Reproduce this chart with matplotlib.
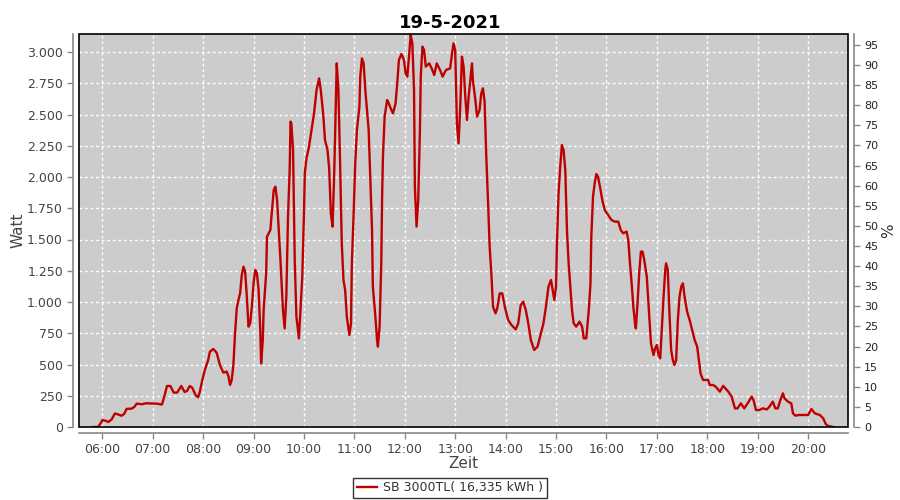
import matplotlib
matplotlib.use("Agg")
import matplotlib.pyplot as plt
import matplotlib.dates as mdates
from matplotlib.ticker import FuncFormatter, MultipleLocator
from matplotlib.patches import Rectangle
import pandas as pd

# readings of 19-5-2021 (time, power in W)
times = [
    "05:49", "05:55", "05:58", "06:00", "06:04", "06:07", "06:11", "06:15", "06:19", "06:23",
    "06:26", "06:29", "06:35", "06:38", "06:41", "06:47", "06:52", "06:58", "07:05", "07:11",
    "07:14", "07:17", "07:21", "07:25", "07:29", "07:34", "07:38", "07:41", "07:44", "07:47",
    "07:51", "07:54", "07:56", "07:59", "08:02", "08:06", "08:08", "08:12", "08:16", "08:20",
    "08:24", "08:28", "08:30", "08:32", "08:34", "08:36", "08:38", "08:40", "08:42", "08:44",
    "08:46", "08:48", "08:50", "08:52", "08:54", "08:56", "08:58", "09:00", "09:02", "09:04",
    "09:06", "09:08", "09:09", "09:11", "09:12", "09:15", "09:16", "09:20", "09:22", "09:24",
    "09:26", "09:28", "09:30", "09:32", "09:35", "09:37", "09:39", "09:41", "09:43", "09:44",
    "09:45", "09:47", "09:49", "09:51", "09:54", "09:56", "09:58", "10:00", "10:01", "10:03",
    "10:06", "10:09", "10:12", "10:15", "10:18", "10:20", "10:23", "10:25", "10:28", "10:30",
    "10:32", "10:34", "10:36", "10:37", "10:39", "10:41", "10:43", "10:45", "10:47", "10:49",
    "10:51", "10:54", "10:56", "10:57", "10:59", "11:01", "11:03", "11:06", "11:07", "11:09",
    "11:11", "11:13", "11:17", "11:19", "11:21", "11:22", "11:25", "11:27", "11:28", "11:30",
    "11:32", "11:33", "11:34", "11:36", "11:39", "11:41", "11:44", "11:46", "11:49", "11:51",
    "11:53", "11:56", "11:59", "12:01", "12:03", "12:05", "12:07", "12:09", "12:11", "12:12",
    "12:14", "12:16", "12:18", "12:19", "12:21", "12:23", "12:25", "12:29", "12:32", "12:35",
    "12:38", "12:42", "12:45", "12:49", "12:54", "12:56", "12:58", "13:00", "13:01", "13:02",
    "13:04", "13:06", "13:08", "13:10", "13:12", "13:14", "13:16", "13:18", "13:20", "13:21",
    "13:24", "13:26", "13:29", "13:31", "13:33", "13:35", "13:37", "13:39", "13:41", "13:43",
    "13:45", "13:48", "13:50", "13:53", "13:56", "13:59", "14:03", "14:07", "14:12", "14:15",
    "14:18", "14:21", "14:24", "14:27", "14:30", "14:34", "14:38", "14:42", "14:45", "14:48",
    "14:51", "14:54", "14:56", "14:58", "15:00", "15:01", "15:03", "15:05", "15:07", "15:09",
    "15:11", "15:13", "15:15", "15:17", "15:19", "15:21", "15:24", "15:28", "15:31", "15:33",
    "15:36", "15:39", "15:41", "15:42", "15:44", "15:46", "15:48", "15:50", "15:53", "15:55",
    "15:58", "16:02", "16:06", "16:10", "16:14", "16:17", "16:20", "16:24", "16:26", "16:28",
    "16:30", "16:32", "16:34", "16:35", "16:37", "16:39", "16:41", "16:43", "16:45", "16:48",
    "16:50", "16:53", "16:56", "16:58", "17:00", "17:02", "17:04", "17:06", "17:08", "17:10",
    "17:11", "17:13", "17:15", "17:17", "17:19", "17:21", "17:23", "17:25", "17:27", "17:29",
    "17:31", "17:33", "17:36", "17:39", "17:42", "17:45", "17:48", "17:50", "17:52", "17:55",
    "17:58", "18:01", "18:03", "18:07", "18:10", "18:15", "18:19", "18:25", "18:29", "18:33",
    "18:36", "18:40", "18:44", "18:48", "18:53", "18:55", "18:58", "19:02", "19:06", "19:11",
    "19:14", "19:18", "19:21", "19:24", "19:27", "19:30", "19:32", "19:36", "19:40", "19:42",
    "19:45", "19:49", "20:00", "20:04", "20:08", "20:14", "20:18", "20:21", "20:24", "20:30",
]
watt = [
    0, 0, 30, 55, 50, 40, 60, 108, 100, 90,
    105, 145, 147, 160, 187, 182, 190, 188, 187, 180,
    250, 328, 328, 275, 275, 328, 280, 290, 328, 315,
    255, 238, 280, 376, 456, 536, 602, 624, 595, 496,
    435, 443, 410, 336, 376, 496, 752, 949, 1016, 1070,
    1216, 1283, 1243, 1043, 803, 830, 963, 1150, 1256, 1230,
    1096, 776, 509, 696, 936, 1230, 1523, 1576, 1736, 1896,
    1923, 1816, 1576, 1336, 936, 789, 1043, 1683, 2056, 2443,
    2430, 2216, 1336, 883, 709, 963, 1203, 1709, 2029, 2149,
    2243, 2376, 2509, 2696, 2789, 2696, 2496, 2296, 2216, 2069,
    1709, 1603, 2029, 2323, 2909, 2696, 2109, 1469, 1176, 1096,
    883, 736, 829, 1309, 1683, 2109, 2376, 2563, 2803, 2949,
    2909, 2696, 2376, 1976, 1576, 1123, 883, 696, 643, 803,
    1309, 1843, 2163, 2483, 2616, 2589, 2536, 2509, 2589, 2749,
    2936, 2984, 2936, 2829, 2803, 2963, 3136, 3069, 2696, 1923,
    1603, 1816, 2376, 2803, 3043, 3016, 2883, 2909, 2869, 2816,
    2909, 2856, 2803, 2856, 2869, 2976, 3069, 3016, 2723, 2429,
    2269, 2563, 2963, 2883, 2643, 2456, 2643, 2776, 2909, 2776,
    2616, 2483, 2536, 2669, 2709, 2603, 2163, 1816, 1443, 1229,
    963, 909, 949, 1069, 1069, 963, 856, 816, 781, 829,
    976, 1003, 936, 829, 696, 616, 643, 749, 829, 963,
    1123, 1176, 1096, 1016, 1123, 1443, 1869, 2083, 2256, 2216,
    2056, 1576, 1309, 1123, 936, 829, 803, 843, 803, 709,
    709, 936, 1149, 1523, 1843, 1949, 2024, 2003, 1896, 1816,
    1736, 1696, 1656, 1643, 1643, 1576, 1549, 1563, 1496, 1309,
    1149, 963, 829, 789, 989, 1229, 1403, 1403, 1336, 1203,
    989, 669, 576, 629, 656, 576, 549, 803, 1043, 1256,
    1309, 1256, 909, 616, 536, 496, 536, 856, 1043, 1123,
    1149, 1043, 923, 856, 776, 696, 643, 536, 429, 376,
    376, 376, 336, 336, 323, 283, 329, 283, 243, 149,
    149, 189, 149, 189, 243, 216, 136, 136, 149, 141,
    163, 203, 149, 149, 216, 269, 229, 203, 189, 109,
    91, 96, 96, 144, 109, 96, 69, 24, 8, 0,
]

legend_label = "SB 3000TL( 16,335 kWh )"
day = "2021-05-19"

t = pd.to_datetime([day + " " + s for s in times])

fig = plt.figure(figsize=(9, 5), dpi=100)
ax = fig.add_axes([79 / 900, 1 - 427 / 500, 769 / 900, 393 / 500])
ax.set_facecolor("#cccccc")

line, = ax.plot(t, watt, color="#bf0000", lw=1.7, label=legend_label)

ax.set_xlim(pd.Timestamp(day + " 05:32:15"), pd.Timestamp(day + " 20:47:30"))
ax.set_ylim(0, 3144)

ax.xaxis.set_major_locator(mdates.HourLocator())
ax.xaxis.set_major_formatter(mdates.DateFormatter("%H:%M"))
ax.yaxis.set_major_locator(MultipleLocator(250))
ax.yaxis.set_major_formatter(FuncFormatter(lambda v, p: f"{int(v):,}".replace(",", ".")))

ax.grid(True, color="white", linestyle=(0, (2, 2)), linewidth=1.0)
ax.set_axisbelow(True)

# right-hand percentage axis
ax2 = ax.twinx()
ax2.set_ylim(0, 97.7)
ax2.yaxis.set_major_locator(MultipleLocator(5))
ax2.set_ylabel("%", fontsize=11, color="#333333", labelpad=2)

gray = "#888888"
for a in (ax, ax2):
    for side in ("top", "left", "right", "bottom"):
        a.spines[side].set_visible(False)
ax.spines["left"].set_visible(True)
ax.spines["bottom"].set_visible(True)
ax2.spines["right"].set_visible(True)
for sp in (ax.spines["left"], ax.spines["bottom"], ax2.spines["right"]):
    sp.set_position(("outward", 4))
    sp.set_color(gray)
    sp.set_linewidth(1.2)

ax.tick_params(axis="both", colors=gray, labelcolor="#444444", labelsize=9, length=4, width=1)
ax2.tick_params(axis="y", colors=gray, labelcolor="#222222", labelsize=8, length=4, width=1)

# black frame around the plot area
ax.add_patch(Rectangle((0, 0), 1, 1, transform=ax.transAxes, fill=False,
                       edgecolor="black", lw=1.2, clip_on=False, zorder=5))

ax.set_xlabel("Zeit", fontsize=11, color="#444444", labelpad=0)
ax.set_ylabel("Watt", fontsize=11, color="#444444", labelpad=1)

fig.suptitle("19-5-2021", fontsize=13, fontweight="bold", y=0.972)

leg = fig.legend(handles=[line], loc="center", bbox_to_anchor=(0.5, 0.024),
                 fontsize=9, frameon=True, fancybox=False, handlelength=1.6,
                 borderpad=0.3, handletextpad=0.5)
leg.get_frame().set_edgecolor("black")
leg.get_frame().set_linewidth(1.0)
for txt in leg.get_texts():
    txt.set_color("#333333")

fig.savefig("out.png", dpi=100)
